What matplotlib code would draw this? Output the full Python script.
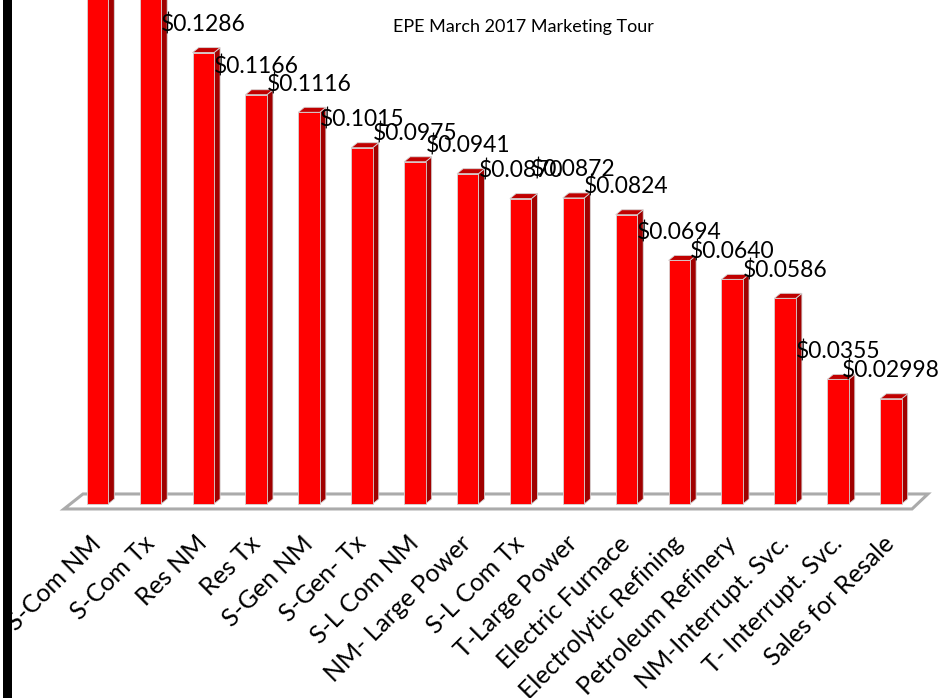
import matplotlib
matplotlib.use("Agg")
import matplotlib.pyplot as plt
from matplotlib.patches import Polygon, Rectangle

plt.rcParams['font.family'] = ['Lato', 'DejaVu Sans']

categories = ["S-Com NM", "S-Com Tx", "Res NM", "Res Tx", "S-Gen NM", "S-Gen- Tx",
              "S-L Com NM", "NM- Large Power", "S-L Com Tx", "T-Large Power",
              "Electric Furnace", "Electrolytic Refining", "Petroleum Refinery",
              "NM-Interrupt. Svc.", "T- Interrupt. Svc.", "Sales for Resale"]
# first two bars run off the top of the picture, values estimated
rates = [0.1620, 0.1510, 0.1286, 0.1166, 0.1116, 0.1015, 0.0975, 0.0941,
         0.0870, 0.0872, 0.0824, 0.0694, 0.0640, 0.0586, 0.0355, 0.02998]


def money(v):
    if round(v, 4) == v:
        return f"${v:.4f}"
    return f"${v}"


fig = plt.figure(figsize=(9.48, 6.98), dpi=100)
ax = fig.add_axes([0, 0.2665, 1, 0.7335])
ax.set_xlim(-1.843, 16.08)
ax.set_ylim(-0.00228, 0.14359)

x = list(range(len(rates)))
w = 0.406
dx = 0.115
dy = 0.00142

# floor
n = len(rates)
floor = Polygon([(-0.633, -0.00142), (n - 1 + 0.40, -0.00142),
                 (n - 1 + 0.70, 0.00285), (-0.274, 0.00285)],
                closed=True, fill=False, edgecolor="#ABABAB", lw=2.2, zorder=1)
ax.add_patch(floor)

ax.bar(x, rates, width=w, color="#FF0000", edgecolor="#D4D4D4", lw=0.6, zorder=3)
for xi, v in zip(x, rates):
    r = xi + w / 2
    l = xi - w / 2
    side = Polygon([(r, 0), (r + dx, dy), (r + dx, v + dy), (r, v)],
                   closed=True, facecolor="#A00000", edgecolor="#D4D4D4", lw=0.6, zorder=2)
    top = Polygon([(l, v), (l + dx, v + dy), (r + dx, v + dy), (r, v)],
                  closed=True, facecolor="#C00000", edgecolor="#D4D4D4", lw=0.6, zorder=2)
    ax.add_patch(side)
    ax.add_patch(top)
    ax.annotate(money(v), (xi, v), xytext=(0, 28), textcoords="offset pixels",
                ha="center", va="center", fontsize=16.5, color="black", zorder=5)

ax.set_xticks(x)
ax.set_xticklabels(categories, fontsize=18)
ax.tick_params(axis="x", length=0, pad=20)
ax.set_yticks([])
plt.setp(ax.get_xticklabels(), rotation=45, ha="right", va="center", rotation_mode="anchor")
for s in ax.spines.values():
    s.set_visible(False)
ax.patch.set_visible(False)

fig.text(523 / 948, 1 - 27 / 698, "EPE March 2017 Marketing Tour",
         ha="center", va="center", fontsize=13)

# black bar at the left edge
fig.patches.append(Rectangle((3 / 948, 0), 9 / 948, 1, transform=fig.transFigure,
                             facecolor="black", edgecolor="none", zorder=10))

fig.savefig("out.png", dpi=100)
